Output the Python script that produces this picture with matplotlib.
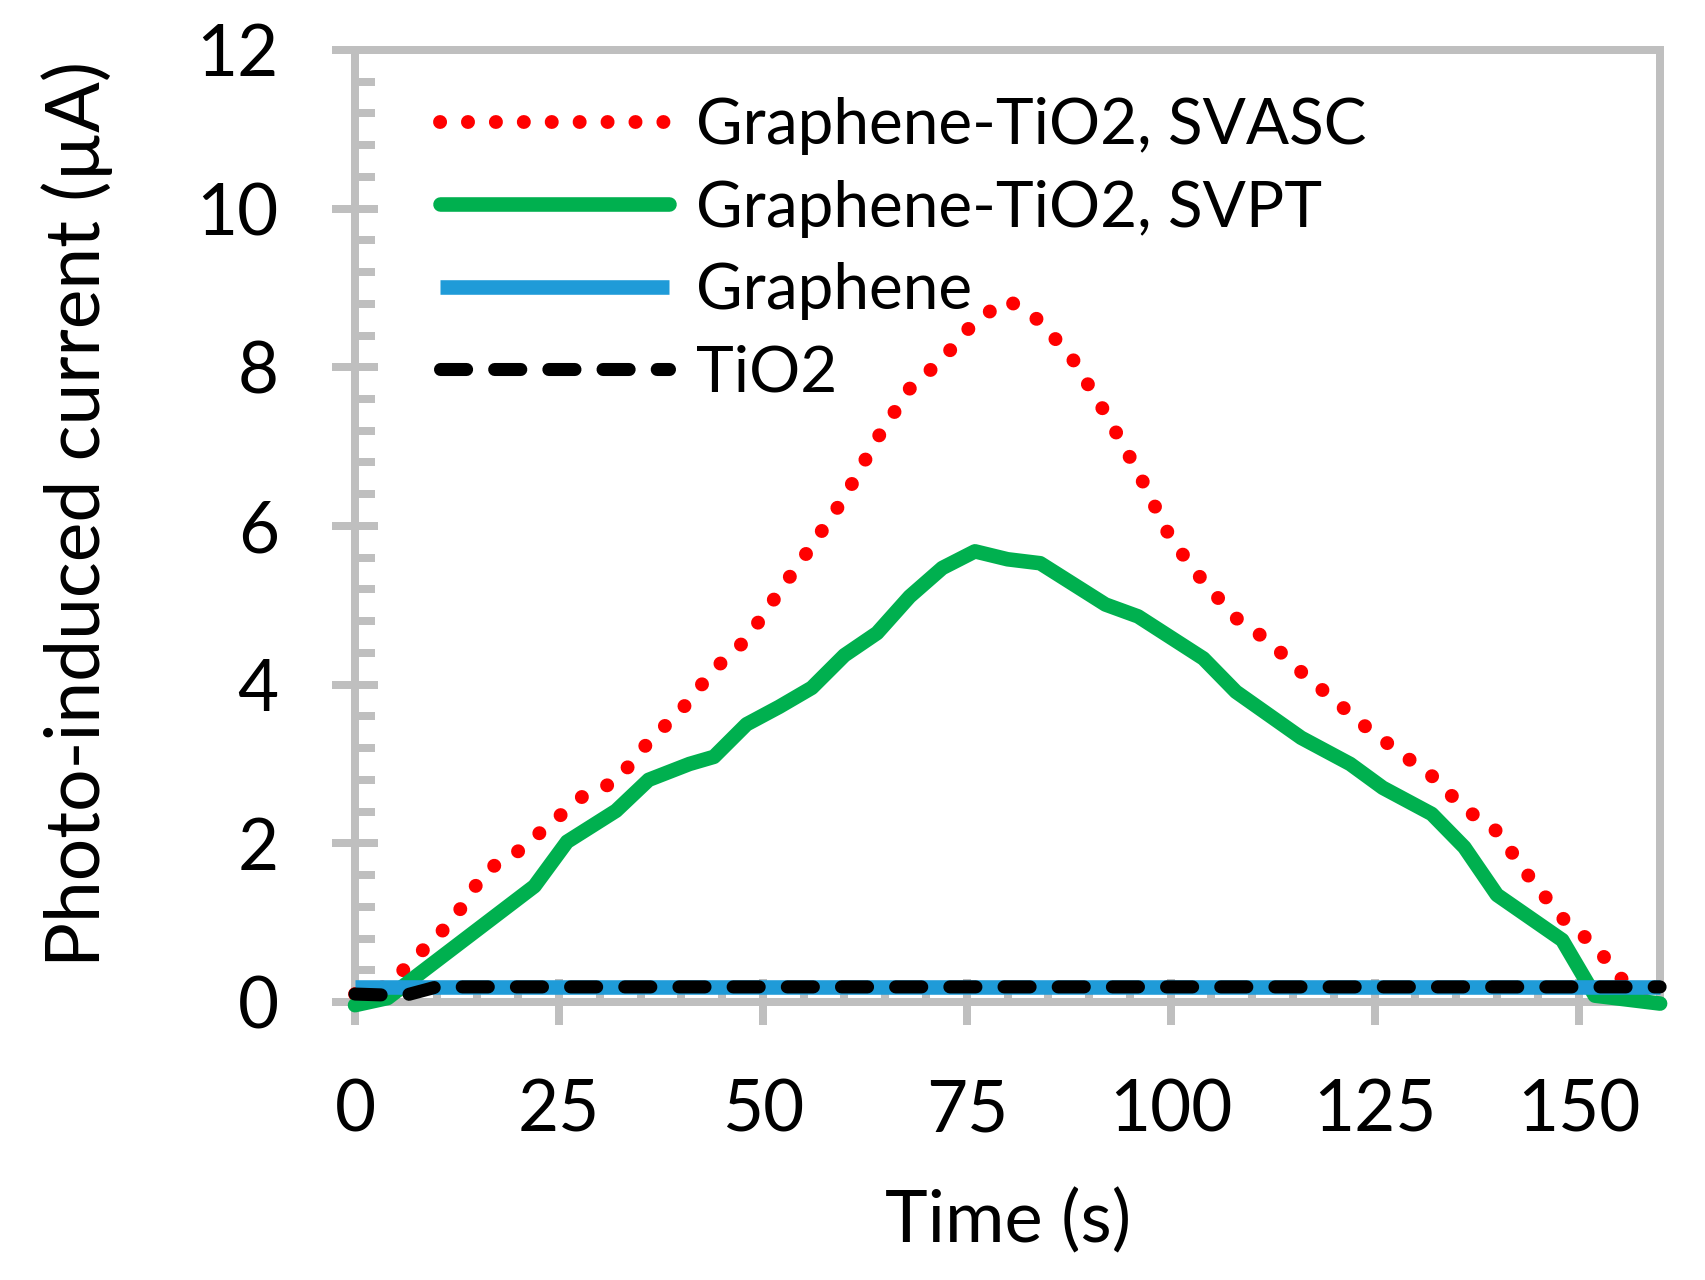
import matplotlib
matplotlib.use("Agg")
import matplotlib.pyplot as plt
from matplotlib.ticker import MultipleLocator

plt.rcParams["font.family"] = ["Lato", "DejaVu Sans"]

# time axis (s) and photo-induced current (uA)
svasc_t = list(range(0, 161, 4))
svasc_i = [0.1, 0.2, 0.62, 1.03, 1.65, 1.9, 2.25, 2.6, 2.78, 3.28, 3.68,
           4.19, 4.57, 5.17, 5.75, 6.36, 7.1, 7.73, 8.1, 8.58, 8.85,
           8.58, 8.1, 7.42, 6.68, 5.84, 5.3, 4.84, 4.55, 4.16, 3.81,
           3.46, 3.15, 2.85, 2.44, 2.15, 1.57, 1.06, 0.71, 0.2, 0.15]

svpt_t = [0, 4, 22, 26, 32, 36, 41, 44, 48, 52, 56, 60, 64, 68, 72, 76,
          80, 84, 92, 96, 104, 108, 116, 122, 126, 132, 136, 140, 148, 152, 160]
svpt_i = [-0.04, 0.05, 1.46, 2.02, 2.41, 2.8, 3.0, 3.09, 3.5, 3.72, 3.96,
          4.37, 4.65, 5.11, 5.47, 5.68, 5.58, 5.53, 5.01, 4.86, 4.33, 3.91,
          3.33, 3.0, 2.7, 2.37, 1.95, 1.35, 0.78, 0.08, -0.02]

graphene_t = [0, 160]
graphene_i = [0.19, 0.19]

tio2_t = [0, 6, 10, 160]
tio2_i = [0.1, 0.08, 0.19, 0.19]

labels = ["Graphene-TiO2, SVASC", "Graphene-TiO2, SVPT", "Graphene", "TiO2"]

GRAY = "#BFBFBF"

fig = plt.figure(figsize=(17.06, 12.8), dpi=100)
ax = fig.add_axes([0.2081, 0.2172, 0.7650, 0.7438])

ax.plot(svasc_t, svasc_i, color="#FF0000", lw=10, ls=(0, (0.01, 2.0)),
        dash_capstyle="round", solid_capstyle="round", zorder=2, clip_on=False,
        label=labels[0])
ax.plot(svpt_t, svpt_i, color="#00B04F", lw=10.5, solid_capstyle="round",
        solid_joinstyle="round", zorder=3, clip_on=False, label=labels[1])
ax.plot(graphene_t, graphene_i, color="#1F9BD8", lw=10.5, solid_capstyle="butt",
        zorder=4, clip_on=False, label=labels[2])
ax.plot(tio2_t, tio2_i, color="#000000", lw=9.4, ls=(0, (2.0, 2.15)),
        dash_capstyle="round", zorder=5, clip_on=False, label=labels[3])

ax.set_xlim(0, 160)
ax.set_ylim(0, 12)
ax.xaxis.set_major_locator(MultipleLocator(25))
ax.xaxis.set_minor_locator(MultipleLocator(5))
ax.yaxis.set_major_locator(MultipleLocator(2))
ax.yaxis.set_minor_locator(MultipleLocator(0.4))

for sp in ax.spines.values():
    sp.set_color(GRAY)
    sp.set_linewidth(5.76)
    sp.set_zorder(1)

ax.tick_params(which="major", direction="inout", length=33.8, width=5.76,
               color=GRAY, labelsize=51, pad=38, labelcolor="black")
ax.tick_params(which="minor", direction="in", length=14.4, width=5.76, color=GRAY)
ax.tick_params(top=False, right=False, which="both")

ax.set_xlabel("Time (s)", fontsize=52, labelpad=32)
ax.set_ylabel("Photo-induced current (µA)", fontsize=54, labelpad=60)
ax.yaxis.label.set_y(0.513)

ax.legend(loc="upper left", bbox_to_anchor=(0.2579, 0.9242),
          bbox_transform=fig.transFigure, frameon=False, fontsize=46,
          handlelength=3.59, handletextpad=0.42, labelspacing=0.385,
          borderpad=0, borderaxespad=0)

fig.savefig("out.png", dpi=100, facecolor="white")
